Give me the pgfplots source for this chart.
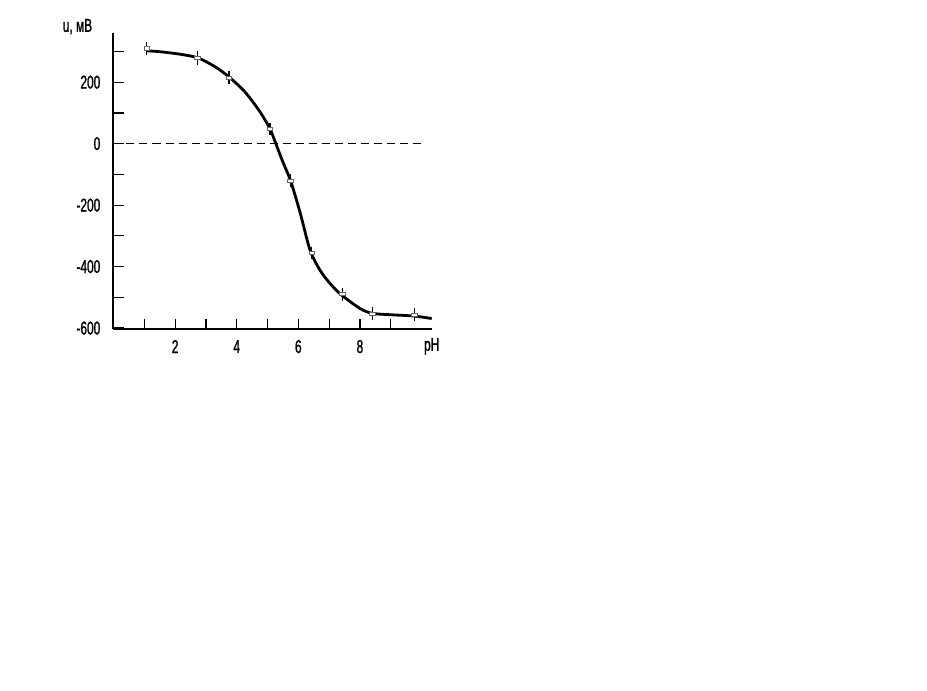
\documentclass[border=0pt]{standalone}
\usepackage{fontspec}
\setmainfont{Liberation Sans}[FakeStretch=0.64, FakeBold=1.2]
\usepackage{pgfplots}
\pgfplotsset{compat=1.18}
\begin{document}
\fontsize{9.3}{10}\selectfont
\begin{tikzpicture}
\path[use as bounding box, fill=white] (0,0) rectangle (463.5pt,345.5pt);
\begin{axis}[
  at={(56.75pt,181pt)}, anchor=south west,
  scale only axis, width=159.1pt, height=148pt,
  xmin=0, xmax=10.33, ymin=-603, ymax=360,
  axis x line=bottom, axis y line=left,
  axis line style={black, line width=1pt, -},
  xtick={1,2,3,4,5,6,7,8,9},
  xticklabels={,2,,4,,6,,8,},
  ytick={-600,-500,-400,-300,-200,-100,0,100,200,300},
  yticklabels={-600,,-400,,-200,,0,,200,},
  tick align=inside, major tick length=5pt,
  tick style={black, line width=0.6pt},
  /pgf/number format/assume math mode=true,
  xticklabel style={anchor=center, inner sep=0pt, yshift=-8.8pt},
  yticklabel style={anchor=east, inner sep=0pt, xshift=-6.4pt},
  clip=false,
]
\addplot[dash pattern=on 4pt off 2.5pt, line width=0.5pt] coordinates {(0,0) (10.0,0)};
\addplot[smooth, line width=1.4pt] coordinates {
(1.09,302) (1.51,299) (2.16,291) (2.74,279) (3.30,250) (3.75,217)
(4.27,168) (4.76,103) (5.08,48) (5.27,0) (5.50,-60) (5.75,-121)
(6.06,-225) (6.38,-346) (6.70,-411) (7.03,-455) (7.41,-493)
(8.00,-536) (8.40,-552) (9.07,-557) (9.77,-561) (10.33,-569)
};
\addplot[only marks, mark=square*, mark size=1.1pt,
  mark options={fill=white, draw=black!60, line width=0.4pt, xscale=1.3, yscale=0.7},
  error bars/.cd, y dir=both, y explicit, error mark=none,
  error bar style={line width=0.6pt, black}]
coordinates {
(1.08,310) +- (0,22)
(2.73,278) +- (0,22)
(3.75,215) +- (0,22)
(5.08,48) +- (0,20)
(5.75,-120) +- (0,20)
(6.44,-355) +- (0,20)
(7.43,-490) +- (0,22)
(8.40,-553) +- (0,22)
(9.77,-556) +- (0,22)
};
\node[inner sep=0pt] at (rel axis cs:0,1) [xshift=-18pt, yshift=3.2pt] {u, мВ};
\node[inner sep=0pt] at (rel axis cs:1,0) [yshift=-8.7pt] {pH};
\end{axis}
\end{tikzpicture}
\end{document}
